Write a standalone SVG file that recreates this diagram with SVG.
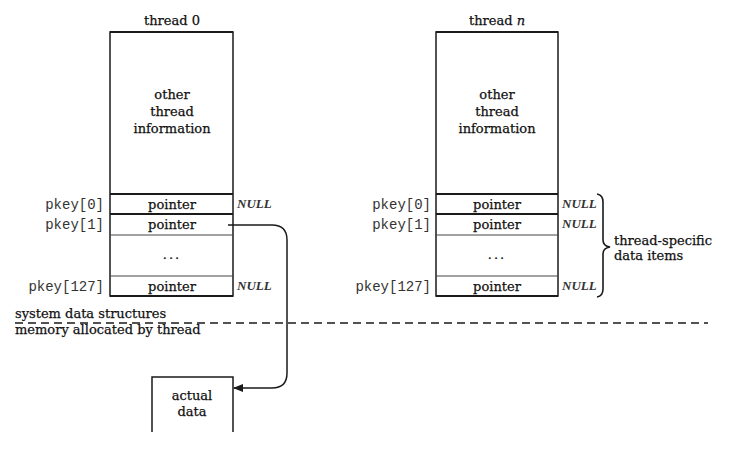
<svg xmlns="http://www.w3.org/2000/svg" width="743" height="450" viewBox="0 0 743 450">
<style>
.t{font-family:"DejaVu Serif","Liberation Serif",serif;font-size:13px;fill:#111;stroke:#111;stroke-width:0.25}
.m{font-family:"Liberation Mono","DejaVu Sans Mono",monospace;font-size:14px;fill:#333}
.nl{font-family:"Liberation Serif","DejaVu Serif",serif;font-size:13px;font-style:italic;font-weight:bold;fill:#333}
.box{fill:none;stroke:#1a1a1a;stroke-width:1.5}
.thk{stroke:#1a1a1a;stroke-width:2;fill:none}
.thn{stroke:#444;stroke-width:1;fill:none}
</style>
<defs>
<marker id="ah" markerWidth="10" markerHeight="8" refX="9" refY="4" orient="auto" markerUnits="userSpaceOnUse">
<path d="M0,0 L10,4 L0,8 Z" fill="#1a1a1a"/>
</marker>
</defs>
<rect width="743" height="450" fill="#fff"/>

<g id="thread0">
<text class="t" x="172" y="25" text-anchor="middle">thread 0</text>
<rect class="box" x="110" y="32" width="123" height="264"/>
<line class="thk" x1="110" y1="32" x2="233" y2="32"/>
<line class="thk" x1="110" y1="194" x2="233" y2="194"/>
<line class="thk" x1="110" y1="214" x2="233" y2="214"/>
<line class="thn" x1="110" y1="235" x2="233" y2="235"/>
<line class="thn" x1="110" y1="276" x2="233" y2="276"/>
<line class="thk" x1="110" y1="296" x2="233" y2="296"/>
<text class="t" x="172" y="99" text-anchor="middle">other</text>
<text class="t" x="172" y="116" text-anchor="middle">thread</text>
<text class="t" x="172" y="133" text-anchor="middle">information</text>
<text class="t" x="172" y="209" text-anchor="middle">pointer</text>
<text class="t" x="172" y="229" text-anchor="middle">pointer</text>
<text class="t" x="172" y="259" text-anchor="middle" letter-spacing="2">...</text>
<text class="t" x="172" y="291" text-anchor="middle">pointer</text>
<text class="m" x="104" y="209" text-anchor="end">pkey[0]</text>
<text class="m" x="104" y="229" text-anchor="end">pkey[1]</text>
<text class="m" x="104" y="291" text-anchor="end">pkey[127]</text>
<text class="nl" x="237" y="208">NULL</text>
<text class="nl" x="237" y="290">NULL</text>
</g>

<g id="threadn">
<text class="t" x="497" y="25" text-anchor="middle">thread <tspan font-style="italic">n</tspan></text>
<rect class="box" x="436" y="32" width="122" height="264"/>
<line class="thk" x1="436" y1="32" x2="558" y2="32"/>
<line class="thk" x1="436" y1="194" x2="558" y2="194"/>
<line class="thk" x1="436" y1="214" x2="558" y2="214"/>
<line class="thn" x1="436" y1="235" x2="558" y2="235"/>
<line class="thn" x1="436" y1="276" x2="558" y2="276"/>
<line class="thk" x1="436" y1="296" x2="558" y2="296"/>
<text class="t" x="497" y="99" text-anchor="middle">other</text>
<text class="t" x="497" y="116" text-anchor="middle">thread</text>
<text class="t" x="497" y="133" text-anchor="middle">information</text>
<text class="t" x="497" y="209" text-anchor="middle">pointer</text>
<text class="t" x="497" y="229" text-anchor="middle">pointer</text>
<text class="t" x="497" y="259" text-anchor="middle" letter-spacing="2">...</text>
<text class="t" x="497" y="291" text-anchor="middle">pointer</text>
<text class="m" x="431" y="209" text-anchor="end">pkey[0]</text>
<text class="m" x="431" y="229" text-anchor="end">pkey[1]</text>
<text class="m" x="431" y="291" text-anchor="end">pkey[127]</text>
<text class="nl" x="562" y="208">NULL</text>
<text class="nl" x="562" y="228">NULL</text>
<text class="nl" x="562" y="290">NULL</text>
</g>

<g id="brace">
<path d="M597,194 Q603,195 603,202 L603,240 Q603,246 610,247 Q603,248 603,254 L603,289 Q603,296 597,297" fill="none" stroke="#1a1a1a" stroke-width="1.6"/>
<text class="t" x="614" y="245">thread-specific</text>
<text class="t" x="614" y="260">data items</text>
</g>

<g id="boundary">
<line x1="15" y1="323" x2="708" y2="323" stroke="#1a1a1a" stroke-width="1.3" stroke-dasharray="8 5"/>
<text class="t" x="15" y="318">system data structures</text>
<text class="t" x="15" y="334">memory allocated by thread</text>
</g>

<g id="actualdata">
<path class="box" d="M152,432 L152,377 L233,377 L233,432"/>
<text class="t" x="192" y="400" text-anchor="middle">actual</text>
<text class="t" x="192" y="416" text-anchor="middle">data</text>
</g>

<g id="connectors">
<path d="M228,225 L272,225 Q287,225 287,240 L287,373 Q287,388 272,388 L234,388" fill="none" stroke="#1a1a1a" stroke-width="1.5" marker-end="url(#ah)"/>
</g>
</svg>
